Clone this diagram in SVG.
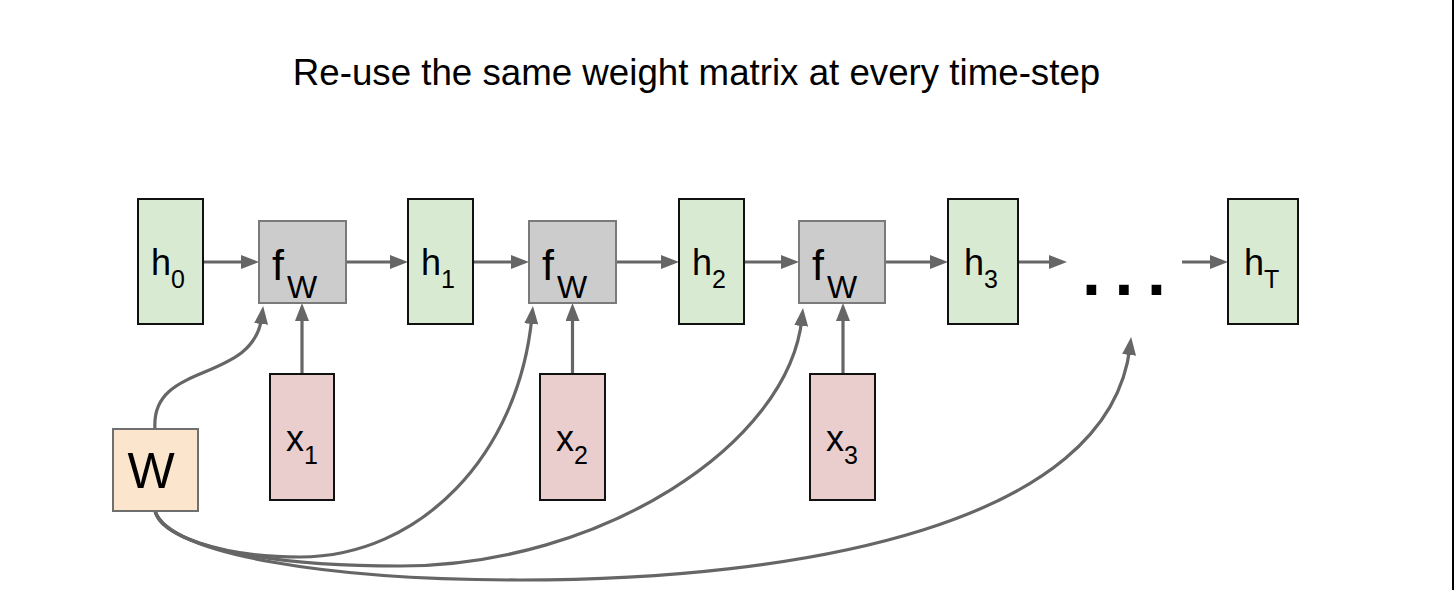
<svg xmlns="http://www.w3.org/2000/svg" width="1454" height="590" viewBox="0 0 1454 590">
<defs>
<style>
.h{fill:#d9ead3;stroke:#111;stroke-width:2}
.x{fill:#eacdcd;stroke:#111;stroke-width:2}
.f{fill:#cccccc;stroke:#7a7a7a;stroke-width:2}
.w{fill:#fce5cd;stroke:#6f6f6f;stroke-width:2}
.t{font-family:"Liberation Sans",Arial,sans-serif;fill:#000}
.s{font-size:25px}
.c{fill:none;stroke:#666;stroke-width:3.2;marker-end:url(#ah)}
</style>
<marker id="ah" markerUnits="userSpaceOnUse" markerWidth="20" markerHeight="16" refX="8" refY="7" orient="auto">
<path d="M0,0 L18,7 L0,14 z" fill="#666"/>
</marker>
</defs>
<rect width="1454" height="590" fill="#fff"/>
<line x1="1453" y1="0" x2="1453" y2="590" stroke="#000" stroke-width="2"/>
<text class="t" x="696.5" y="85" font-size="36.7" text-anchor="middle">Re-use the same weight matrix at every time-step</text>

<g id="connectors">
<path class="c" d="M203,262 H249"/>
<path class="c" d="M346,262 H398"/>
<path class="c" d="M473,262 H519"/>
<path class="c" d="M615,262 H669"/>
<path class="c" d="M744,262 H789"/>
<path class="c" d="M885,262 H938"/>
<path class="c" d="M1018,262 H1057"/>
<path class="c" d="M1182,262 H1218"/>
<path class="c" d="M302,374 V313"/>
<path class="c" d="M572.5,374 V313"/>
<path class="c" d="M843,374 V313"/>
<path class="c" d="M155,429 C150,360 254,385 262,316"/>
<path class="c" d="M155,511 C160,535 220,557 300,557 C420,557 519,455 532,316"/>
<path class="c" d="M155,511 C165,545 260,566 400,566 C600,566 789,445 802,318"/>
<path class="c" d="M155,511 C170,555 330,580 520,580 C800,580 1109,525 1130,347"/>
</g>

<g id="h0"><rect class="h" x="138" y="199" width="65" height="125"/>
<text class="t" x="151" y="275" font-size="36">h<tspan class="s" dy="13">0</tspan></text></g>
<g id="h1"><rect class="h" x="408" y="199" width="65" height="125"/>
<text class="t" x="421" y="275" font-size="36">h<tspan class="s" dy="13">1</tspan></text></g>
<g id="h2"><rect class="h" x="679" y="199" width="65" height="125"/>
<text class="t" x="692" y="275" font-size="36">h<tspan class="s" dy="13">2</tspan></text></g>
<g id="h3"><rect class="h" x="948" y="199" width="70" height="125"/>
<text class="t" x="964" y="275" font-size="36">h<tspan class="s" dy="13">3</tspan></text></g>
<g id="hT"><rect class="h" x="1228" y="199" width="70" height="125"/>
<text class="t" x="1244" y="275" font-size="36">h<tspan class="s" dy="13">T</tspan></text></g>

<g id="f1"><rect class="f" x="259" y="221" width="87" height="82"/>
<text class="t" x="272" y="280" font-size="43">f<tspan x="287" y="298" font-size="32">W</tspan></text></g>
<g id="f2"><rect class="f" x="529" y="221" width="87" height="82"/>
<text class="t" x="542" y="280" font-size="43">f<tspan x="557" y="298" font-size="32">W</tspan></text></g>
<g id="f3"><rect class="f" x="799" y="221" width="86" height="82"/>
<text class="t" x="812" y="280" font-size="43">f<tspan x="827" y="298" font-size="32">W</tspan></text></g>

<g id="x1"><rect class="x" x="270" y="374" width="64" height="126"/>
<text class="t" x="286" y="451" font-size="36">x<tspan class="s" dy="13">1</tspan></text></g>
<g id="x2"><rect class="x" x="540" y="374" width="65" height="126"/>
<text class="t" x="556" y="451" font-size="36">x<tspan class="s" dy="13">2</tspan></text></g>
<g id="x3"><rect class="x" x="810" y="374" width="65" height="126"/>
<text class="t" x="826" y="451" font-size="36">x<tspan class="s" dy="13">3</tspan></text></g>

<g id="W"><rect class="w" x="113" y="429" width="85" height="82"/>
<text class="t" x="151" y="488" font-size="50" text-anchor="middle">W</text></g>

<g id="dots"><text class="t" x="1082" y="295" font-size="68" font-weight="bold" letter-spacing="13.6">...</text></g>
</svg>
